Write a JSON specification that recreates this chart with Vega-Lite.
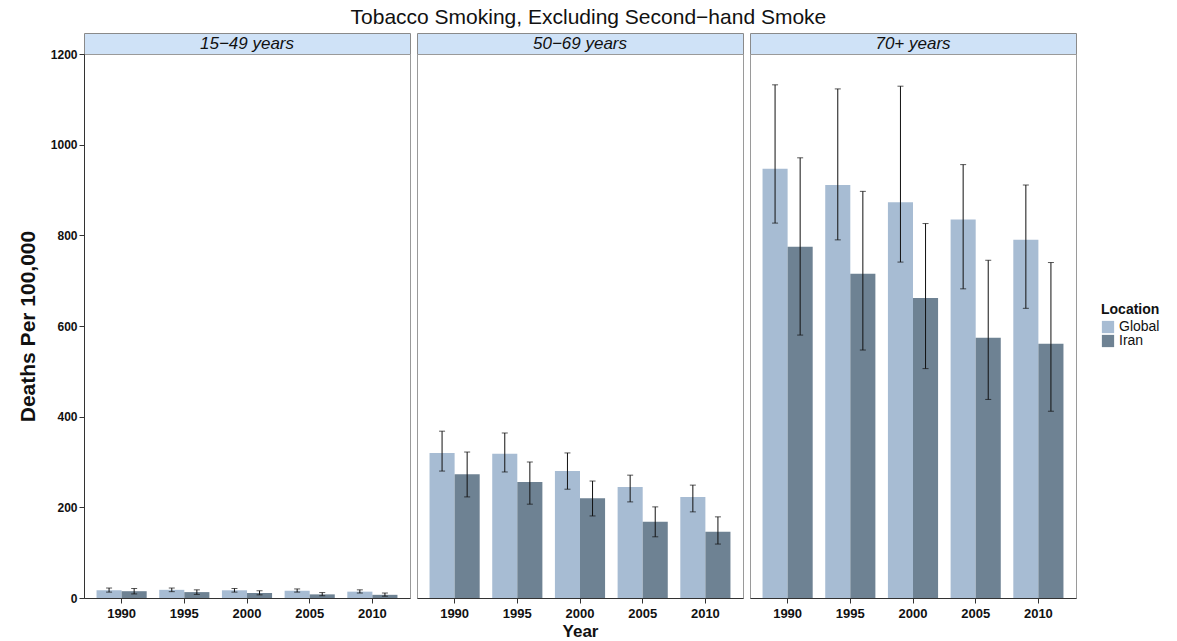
{
  "$schema": "https://vega.github.io/schema/vega-lite/v6.json",
  "background": "white",
  "padding": {"left": 16, "top": 6, "right": 5, "bottom": 0},
  "title": {"text": "Tobacco Smoking, Excluding Second−hand Smoke", "font": "Liberation Sans", "fontSize": 21, "fontWeight": "normal", "color": "#111", "anchor": "middle", "offset": 5},
  "datasets": {
    "strips": [{"panel": "15−49 years"}, {"panel": "50−69 years"}, {"panel": "70+ years"}],
    "d": [
      {"panel": "15−49 years", "year": "1990", "loc": "Global", "value": 17, "lo": 13, "hi": 22},
      {"panel": "15−49 years", "year": "1995", "loc": "Global", "value": 18, "lo": 14, "hi": 22},
      {"panel": "15−49 years", "year": "2000", "loc": "Global", "value": 17, "lo": 13, "hi": 21},
      {"panel": "15−49 years", "year": "2005", "loc": "Global", "value": 16, "lo": 13, "hi": 20},
      {"panel": "15−49 years", "year": "2010", "loc": "Global", "value": 14, "lo": 11, "hi": 18},
      {"panel": "15−49 years", "year": "1990", "loc": "Iran", "value": 15, "lo": 9, "hi": 21},
      {"panel": "15−49 years", "year": "1995", "loc": "Iran", "value": 13, "lo": 8, "hi": 18},
      {"panel": "15−49 years", "year": "2000", "loc": "Iran", "value": 11, "lo": 7, "hi": 16},
      {"panel": "15−49 years", "year": "2005", "loc": "Iran", "value": 8, "lo": 5, "hi": 12},
      {"panel": "15−49 years", "year": "2010", "loc": "Iran", "value": 7, "lo": 4, "hi": 11},
      {"panel": "50−69 years", "year": "1990", "loc": "Global", "value": 320, "lo": 280, "hi": 368},
      {"panel": "50−69 years", "year": "1995", "loc": "Global", "value": 318, "lo": 278, "hi": 364},
      {"panel": "50−69 years", "year": "2000", "loc": "Global", "value": 280, "lo": 240, "hi": 320},
      {"panel": "50−69 years", "year": "2005", "loc": "Global", "value": 245, "lo": 212, "hi": 271},
      {"panel": "50−69 years", "year": "2010", "loc": "Global", "value": 223, "lo": 190, "hi": 249},
      {"panel": "50−69 years", "year": "1990", "loc": "Iran", "value": 273, "lo": 223, "hi": 322},
      {"panel": "50−69 years", "year": "1995", "loc": "Iran", "value": 256, "lo": 207, "hi": 300},
      {"panel": "50−69 years", "year": "2000", "loc": "Iran", "value": 220, "lo": 181, "hi": 258},
      {"panel": "50−69 years", "year": "2005", "loc": "Iran", "value": 168, "lo": 135, "hi": 201},
      {"panel": "50−69 years", "year": "2010", "loc": "Iran", "value": 146, "lo": 119, "hi": 179},
      {"panel": "70+ years", "year": "1990", "loc": "Global", "value": 947, "lo": 827, "hi": 1132},
      {"panel": "70+ years", "year": "1995", "loc": "Global", "value": 911, "lo": 790, "hi": 1123},
      {"panel": "70+ years", "year": "2000", "loc": "Global", "value": 873, "lo": 741, "hi": 1129},
      {"panel": "70+ years", "year": "2005", "loc": "Global", "value": 835, "lo": 682, "hi": 956},
      {"panel": "70+ years", "year": "2010", "loc": "Global", "value": 790, "lo": 639, "hi": 911},
      {"panel": "70+ years", "year": "1990", "loc": "Iran", "value": 775, "lo": 580, "hi": 971},
      {"panel": "70+ years", "year": "1995", "loc": "Iran", "value": 715, "lo": 547, "hi": 897},
      {"panel": "70+ years", "year": "2000", "loc": "Iran", "value": 662, "lo": 506, "hi": 826},
      {"panel": "70+ years", "year": "2005", "loc": "Iran", "value": 574, "lo": 438, "hi": 745},
      {"panel": "70+ years", "year": "2010", "loc": "Iran", "value": 561, "lo": 412, "hi": 740}
    ]
  },
  "config": {
    "font": "Liberation Sans",
    "view": {"stroke": "#9a9a9a", "strokeWidth": 1},
    "concat": {"spacing": 5},
    "axis": {"labelFont": "Liberation Sans", "labelFontWeight": "bold", "labelFontSize": 13, "labelColor": "#111", "titleFont": "Liberation Sans", "titleFontWeight": "bold", "titleFontSize": 17, "titleColor": "#111", "domainColor": "#333", "tickColor": "#333", "grid": false},
    "legend": {"titleFont": "Liberation Sans", "titleFontWeight": "bold", "titleFontSize": 14, "labelFont": "Liberation Sans", "labelFontSize": 14, "labelColor": "#111", "titleColor": "#111"}
  },
  "resolve": {"scale": {"color": "independent"}, "legend": {"color": "independent"}},
  "hconcat": [
    {
      "spacing": 0,
      "bounds": "flush",
      "vconcat": [
        {
          "data": {"name": "strips"},
          "transform": [{"filter": "datum.panel == '15−49 years'"}],
          "width": 326, "height": 21,
          "view": {"fill": "#cfe2f7", "stroke": "#8a8a8a"},
          "mark": {"type": "text", "font": "Liberation Sans", "fontSize": 17, "fontStyle": "italic", "color": "#111"},
          "encoding": {"text": {"field": "panel"}}
        },
        {
          "data": {"name": "d"},
          "transform": [{"filter": "datum.panel == '15−49 years'"}],
          "width": 326, "height": 544,
          "encoding": {
            "x": {"field": "year", "type": "nominal", "scale": {"paddingInner": 0.2, "paddingOuter": 0.2}, "axis": {"title": null, "labelAngle": 0, "labelPadding": 4}}
          },
          "layer": [
            {
              "mark": {"type": "bar"},
              "encoding": {
                "xOffset": {"field": "loc", "type": "nominal"},
                "y": {"field": "value", "type": "quantitative", "scale": {"domain": [0, 1200], "nice": false}, "axis": {"title": "Deaths Per 100,000", "titleFontSize": 21, "format": "d", "values": [0, 200, 400, 600, 800, 1000, 1200], "titlePadding": 12, "labelFontSize": 12}},
                "color": {"field": "loc", "type": "nominal", "scale": {"domain": ["Global", "Iran"], "range": ["#a7bcd3", "#6e8293"]}, "legend": null}
              }
            },
            {
              "mark": {"type": "rule", "color": "#111", "strokeWidth": 1},
              "encoding": {"xOffset": {"field": "loc", "type": "nominal"}, "y": {"field": "lo", "type": "quantitative"}, "y2": {"field": "hi"}}
            },
            {
              "mark": {"type": "tick", "color": "#111", "size": 6, "thickness": 1},
              "encoding": {"xOffset": {"field": "loc", "type": "nominal"}, "y": {"field": "lo", "type": "quantitative"}}
            },
            {
              "mark": {"type": "tick", "color": "#111", "size": 6, "thickness": 1},
              "encoding": {"xOffset": {"field": "loc", "type": "nominal"}, "y": {"field": "hi", "type": "quantitative"}}
            }
          ]
        }
      ]
    },
    {
      "spacing": 0,
      "bounds": "flush",
      "vconcat": [
        {
          "data": {"name": "strips"},
          "transform": [{"filter": "datum.panel == '50−69 years'"}],
          "width": 326, "height": 21,
          "view": {"fill": "#cfe2f7", "stroke": "#8a8a8a"},
          "mark": {"type": "text", "font": "Liberation Sans", "fontSize": 17, "fontStyle": "italic", "color": "#111"},
          "encoding": {"text": {"field": "panel"}}
        },
        {
          "data": {"name": "d"},
          "transform": [{"filter": "datum.panel == '50−69 years'"}],
          "width": 326, "height": 544,
          "encoding": {
            "x": {"field": "year", "type": "nominal", "scale": {"paddingInner": 0.2, "paddingOuter": 0.2}, "axis": {"title": "Year", "labelAngle": 0, "labelPadding": 4, "titlePadding": 3}}
          },
          "layer": [
            {
              "mark": {"type": "bar"},
              "encoding": {
                "xOffset": {"field": "loc", "type": "nominal"},
                "y": {"field": "value", "type": "quantitative", "scale": {"domain": [0, 1200], "nice": false}, "axis": null},
                "color": {"field": "loc", "type": "nominal", "scale": {"domain": ["Global", "Iran"], "range": ["#a7bcd3", "#6e8293"]}, "legend": null}
              }
            },
            {
              "mark": {"type": "rule", "color": "#111", "strokeWidth": 1},
              "encoding": {"xOffset": {"field": "loc", "type": "nominal"}, "y": {"field": "lo", "type": "quantitative"}, "y2": {"field": "hi"}}
            },
            {
              "mark": {"type": "tick", "color": "#111", "size": 6, "thickness": 1},
              "encoding": {"xOffset": {"field": "loc", "type": "nominal"}, "y": {"field": "lo", "type": "quantitative"}}
            },
            {
              "mark": {"type": "tick", "color": "#111", "size": 6, "thickness": 1},
              "encoding": {"xOffset": {"field": "loc", "type": "nominal"}, "y": {"field": "hi", "type": "quantitative"}}
            }
          ]
        }
      ]
    },
    {
      "spacing": 0,
      "bounds": "flush",
      "vconcat": [
        {
          "data": {"name": "strips"},
          "transform": [{"filter": "datum.panel == '70+ years'"}],
          "width": 326, "height": 21,
          "view": {"fill": "#cfe2f7", "stroke": "#8a8a8a"},
          "mark": {"type": "text", "font": "Liberation Sans", "fontSize": 17, "fontStyle": "italic", "color": "#111"},
          "encoding": {"text": {"field": "panel"}}
        },
        {
          "data": {"name": "d"},
          "transform": [{"filter": "datum.panel == '70+ years'"}],
          "width": 326, "height": 544,
          "encoding": {
            "x": {"field": "year", "type": "nominal", "scale": {"paddingInner": 0.2, "paddingOuter": 0.2}, "axis": {"title": null, "labelAngle": 0, "labelPadding": 4}}
          },
          "layer": [
            {
              "mark": {"type": "bar"},
              "encoding": {
                "xOffset": {"field": "loc", "type": "nominal"},
                "y": {"field": "value", "type": "quantitative", "scale": {"domain": [0, 1200], "nice": false}, "axis": null},
                "color": {"field": "loc", "type": "nominal", "scale": {"domain": ["Global", "Iran"], "range": ["#a7bcd3", "#6e8293"]}, "legend": {"title": "Location", "orient": "none", "legendX": 351, "legendY": 270, "symbolType": "square", "symbolSize": 150, "symbolStrokeWidth": 0, "rowPadding": 0, "titlePadding": 3, "symbolOpacity": 1}}
              }
            },
            {
              "mark": {"type": "rule", "color": "#111", "strokeWidth": 1},
              "encoding": {"xOffset": {"field": "loc", "type": "nominal"}, "y": {"field": "lo", "type": "quantitative"}, "y2": {"field": "hi"}}
            },
            {
              "mark": {"type": "tick", "color": "#111", "size": 6, "thickness": 1},
              "encoding": {"xOffset": {"field": "loc", "type": "nominal"}, "y": {"field": "lo", "type": "quantitative"}}
            },
            {
              "mark": {"type": "tick", "color": "#111", "size": 6, "thickness": 1},
              "encoding": {"xOffset": {"field": "loc", "type": "nominal"}, "y": {"field": "hi", "type": "quantitative"}}
            }
          ]
        }
      ]
    }
  ]
}
